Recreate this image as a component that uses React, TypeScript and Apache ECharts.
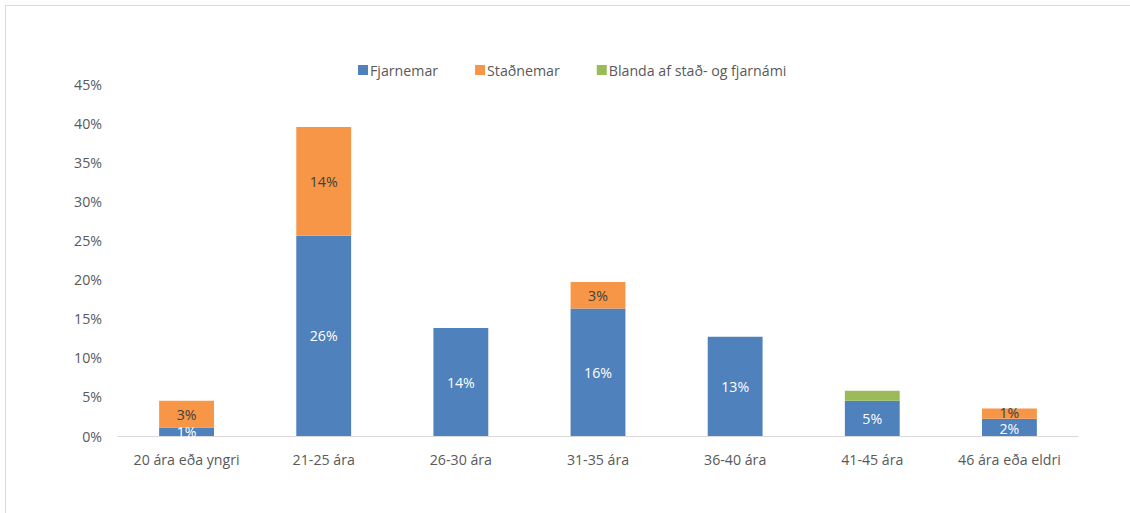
import React, { useEffect, useRef } from "react";
import * as echarts from "echarts";

const categories = ["20 ára eða yngri", "21-25 ára", "26-30 ára", "31-35 ára", "36-40 ára", "41-45 ára", "46 ára eða eldri"];
const fjarnemar = [1.1, 25.6, 13.8, 16.3, 12.7, 4.5, 2.2];
const stadnemar = [3.4, 13.9, null, 3.4, null, null, 1.3];
const blanda = [null, null, null, null, null, 1.3, null];
const yTicks = [0, 5, 10, 15, 20, 25, 30, 35, 40, 45];

const FONT = "'Open Sans', 'Liberation Sans', sans-serif";
const FS = 14.2;

export default function App() {
  const ref = useRef<HTMLDivElement>(null);
  useEffect(() => {
    const chart = echarts.init(ref.current!, null, { renderer: "svg" });
    const lbl = (color: string) => ({
      show: true,
      position: "inside",
      color,
      fontFamily: FONT,
      fontSize: FS,
      lineHeight: 13,
      formatter: (p: any) => (p.value == null ? "" : Math.round(p.value) + "%"),
    });
    const withOffset = (arr: (number | null)[], idx: number, dy: number) =>
      arr.map((v, i) => (i === idx ? { value: v, label: { offset: [0, dy] } } : v));
    chart.setOption({
      animation: false,
      backgroundColor: "#ffffff",
      textStyle: { fontFamily: FONT },
      graphic: [
        {
          type: "rect",
          shape: { x: 5.5, y: 5.5, width: 1140, height: 530 },
          style: { fill: "none", stroke: "#d9d9d9", lineWidth: 1 },
          silent: true,
        },
      ],
      legend: {
        top: 58,
        left: 353,
        itemWidth: 10,
        itemHeight: 10,
        itemGap: 37,
        icon: "rect",
        textStyle: { color: "#595959", fontSize: FS, fontFamily: FONT, padding: [0, 0, 0, -3] },
        data: ["Fjarnemar", "Staðnemar", "Blanda af stað- og fjarnámi"],
      },
      grid: { left: 118, right: 52, top: 84, bottom: 77, containLabel: false },
      xAxis: {
        type: "category",
        data: categories,
        axisLine: { lineStyle: { color: "#d9d9d9" } },
        axisTick: { show: false },
        axisLabel: { color: "#595959", fontSize: FS, fontFamily: FONT, margin: 16, interval: 0 },
      },
      yAxis: {
        type: "value",
        min: 0,
        max: 45,
        interval: 5,
        axisLine: { show: false },
        axisTick: { show: false },
        splitLine: { show: false },
        axisLabel: {
          color: "#595959",
          fontSize: FS,
          fontFamily: FONT,
          margin: 16,
          formatter: (v: number) => (yTicks.includes(v) ? v + "%" : ""),
        },
      },
      series: [
        {
          name: "Fjarnemar",
          type: "bar",
          stack: "a",
          data: withOffset(fjarnemar, 6, 1.5),
          barWidth: "40%",
          itemStyle: { color: "#4f81bd" },
          label: lbl("#ffffff"),
        },
        {
          name: "Staðnemar",
          type: "bar",
          stack: "a",
          data: withOffset(stadnemar, 6, -1.5),
          itemStyle: { color: "#f79646" },
          label: lbl("#404040"),
        },
        {
          name: "Blanda af stað- og fjarnámi",
          type: "bar",
          stack: "a",
          data: blanda,
          itemStyle: { color: "#9bbb59" },
          label: { show: false },
        },
      ],
    });
    return () => chart.dispose();
  }, []);
  return (
    <div
      ref={ref}
      style={{ position: "absolute", left: 0, top: 0, width: 1130, height: 513 }}
    />
  );
}
